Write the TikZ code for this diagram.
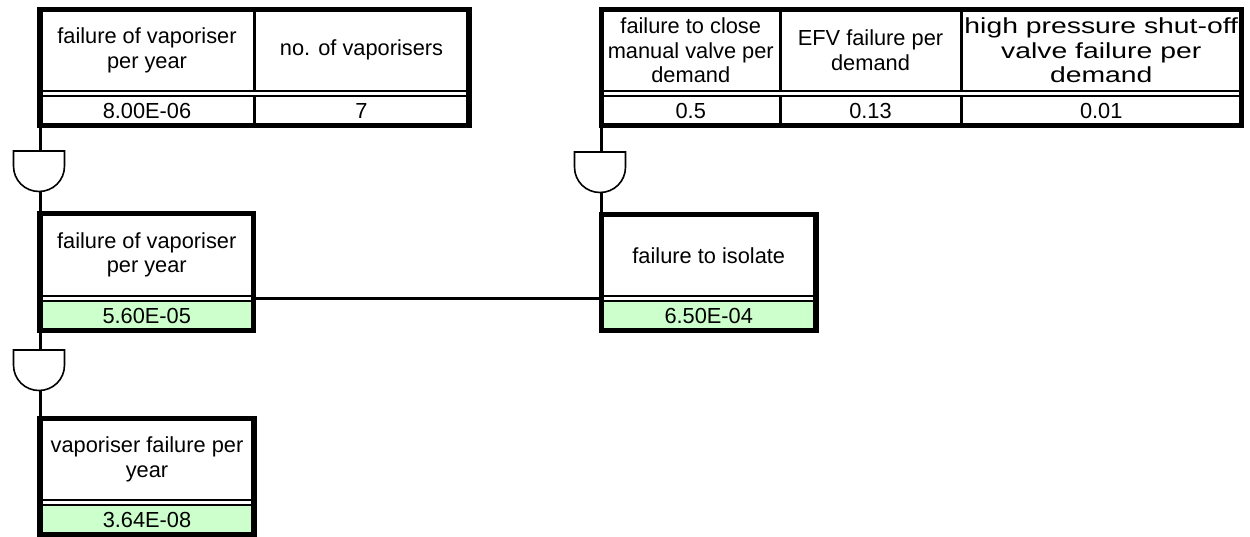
\documentclass[tikz,border=0pt]{standalone}
\usepackage{graphicx}
\usepackage{fontspec}
\setmainfont{Liberation Sans}
\definecolor{valgreen}{RGB}{204,255,204}
\newcommand{\wide}[1]{\scalebox{1.3}[1]{#1}}
\begin{document}
\begin{tikzpicture}[x=1pt,y=-1pt,
  every node/.style={font=\fontsize{21.8}{24.5}\selectfont},
  cell/.style={inner sep=0pt, outer sep=0pt, align=center, anchor=north west},
  val/.style={cell, fill=valgreen},
  frame/.style={draw, line width=5.5pt, inner sep=0pt, outer sep=0pt, anchor=north west},
  rule/.style={line width=2pt},
  vrule/.style={line width=3pt},
  link/.style={line width=3pt},
  gate/.style={draw, line width=1.6pt, fill=white}]
\useasboundingbox (0,0) rectangle (1250,537);

% ---------- top-left table ----------
\node[cell, minimum width=214pt, minimum height=81.5pt] (t1a) at (40,9.5) {failure of vaporiser\\per year};
\node[cell, minimum width=215pt, minimum height=81.5pt] (t1b) at (254,9.5) {no. of vaporisers};
\node[cell, minimum width=214pt, minimum height=29.5pt] (t1c) at (40,96) {8.00E-06};
\node[cell, minimum width=215pt, minimum height=29.5pt] (t1d) at (254,96) {7};
\draw[rule] (t1a.south west) -- (t1b.south east);
\draw[rule] (t1c.north west) -- (t1d.north east);
\draw[vrule] (t1a.north east) -- (t1a.south east);
\draw[vrule] (t1c.north east) -- (t1c.south east);
\node[frame, minimum width=429pt, minimum height=116pt] (T1) at (40,9.5) {};

% ---------- top-right table ----------
\node[cell, minimum width=178.5pt, minimum height=81.5pt] (t2a) at (601.5,9.5) {failure to close\\manual valve per\\demand};
\node[cell, minimum width=181pt, minimum height=81.5pt] (t2b) at (780,9.5) {EFV failure per\\demand};
\node[cell, minimum width=280.5pt, minimum height=81.5pt] (t2c) at (961,9.5) {\wide{high pressure shut-off}\\\wide{valve failure per}\\\wide{demand}};
\node[cell, minimum width=178.5pt, minimum height=29.5pt] (t2d) at (601.5,96) {0.5};
\node[cell, minimum width=181pt, minimum height=29.5pt] (t2e) at (780,96) {0.13};
\node[cell, minimum width=280.5pt, minimum height=29.5pt] (t2f) at (961,96) {0.01};
\draw[rule] (t2a.south west) -- (t2c.south east);
\draw[rule] (t2d.north west) -- (t2f.north east);
\draw[vrule] (t2a.north east) -- (t2a.south east);
\draw[vrule] (t2d.north east) -- (t2d.south east);
\draw[vrule] (t2b.north east) -- (t2b.south east);
\draw[vrule] (t2e.north east) -- (t2e.south east);
\node[frame, minimum width=640pt, minimum height=116pt] (T2) at (601.5,9.5) {};

% ---------- failure of vaporiser per year ----------
\node[cell, minimum width=213.5pt, minimum height=82.5pt] (b2a) at (40,213.5) {failure of vaporiser\\per year};
\node[val, minimum width=213.5pt, minimum height=29.5pt] (b2b) at (40,301) {5.60E-05};
\draw[rule] (b2a.south west) -- (b2a.south east);
\draw[rule] (b2b.north west) -- (b2b.north east);
\node[frame, minimum width=213.5pt, minimum height=117pt] (B2) at (40,213.5) {};

% ---------- failure to isolate ----------
\node[cell, minimum width=214.5pt, minimum height=81.5pt] (b3a) at (601.5,214.5) {failure to isolate};
\node[val, minimum width=214.5pt, minimum height=29.5pt] (b3b) at (601.5,301) {6.50E-04};
\draw[rule] (b3a.south west) -- (b3a.south east);
\draw[rule] (b3b.north west) -- (b3b.north east);
\node[frame, minimum width=214.5pt, minimum height=116pt] (B3) at (601.5,214.5) {};

% ---------- vaporiser failure per year ----------
\node[cell, minimum width=214pt, minimum height=81.5pt] (b4a) at (40,418.5) {vaporiser failure per\\year};
\node[val, minimum width=214pt, minimum height=29.5pt] (b4b) at (40,505) {3.64E-08};
\draw[rule] (b4a.south west) -- (b4a.south east);
\draw[rule] (b4b.north west) -- (b4b.north east);
\node[frame, minimum width=214pt, minimum height=116pt] (B4) at (40,418.5) {};

% ---------- AND gates ----------
\coordinate (g1t) at (39,151);   \coordinate (g1b) at (39,191.5);
\coordinate (g2t) at (600,152);  \coordinate (g2b) at (600,192.5);
\coordinate (g3t) at (39,350);   \coordinate (g3b) at (39,390.5);

\draw[link] (T1.south west) -- (T1.south west |- g1t);
\draw[link] (B2.north west |- g1b) -- (B2.north west);
\draw[link] (T2.south west) -- (T2.south west |- g2t);
\draw[link] (B3.north west |- g2b) -- (B3.north west);
\draw[link] (B2.south west) -- (B2.south west |- g3t);
\draw[link] (B4.north west |- g3b) -- (B4.north west);
\draw[link] ([yshift=-2.5pt]b2a.south east) -- ([yshift=-2.5pt]b3a.south west);

\foreach \g in {g1,g2,g3}{
  \draw[gate] ([xshift=-25.5pt]\g t) -- ([xshift=25.5pt]\g t)
    -- ([xshift=25.5pt,yshift=-15pt]\g t)
    .. controls ([xshift=25.5pt,yshift=11pt]\g b) and ([xshift=14pt]\g b) .. (\g b)
    .. controls ([xshift=-14pt]\g b) and ([xshift=-25.5pt,yshift=11pt]\g b) .. ([xshift=-25.5pt,yshift=-15pt]\g t)
    -- cycle;
}
\end{tikzpicture}
\end{document}
